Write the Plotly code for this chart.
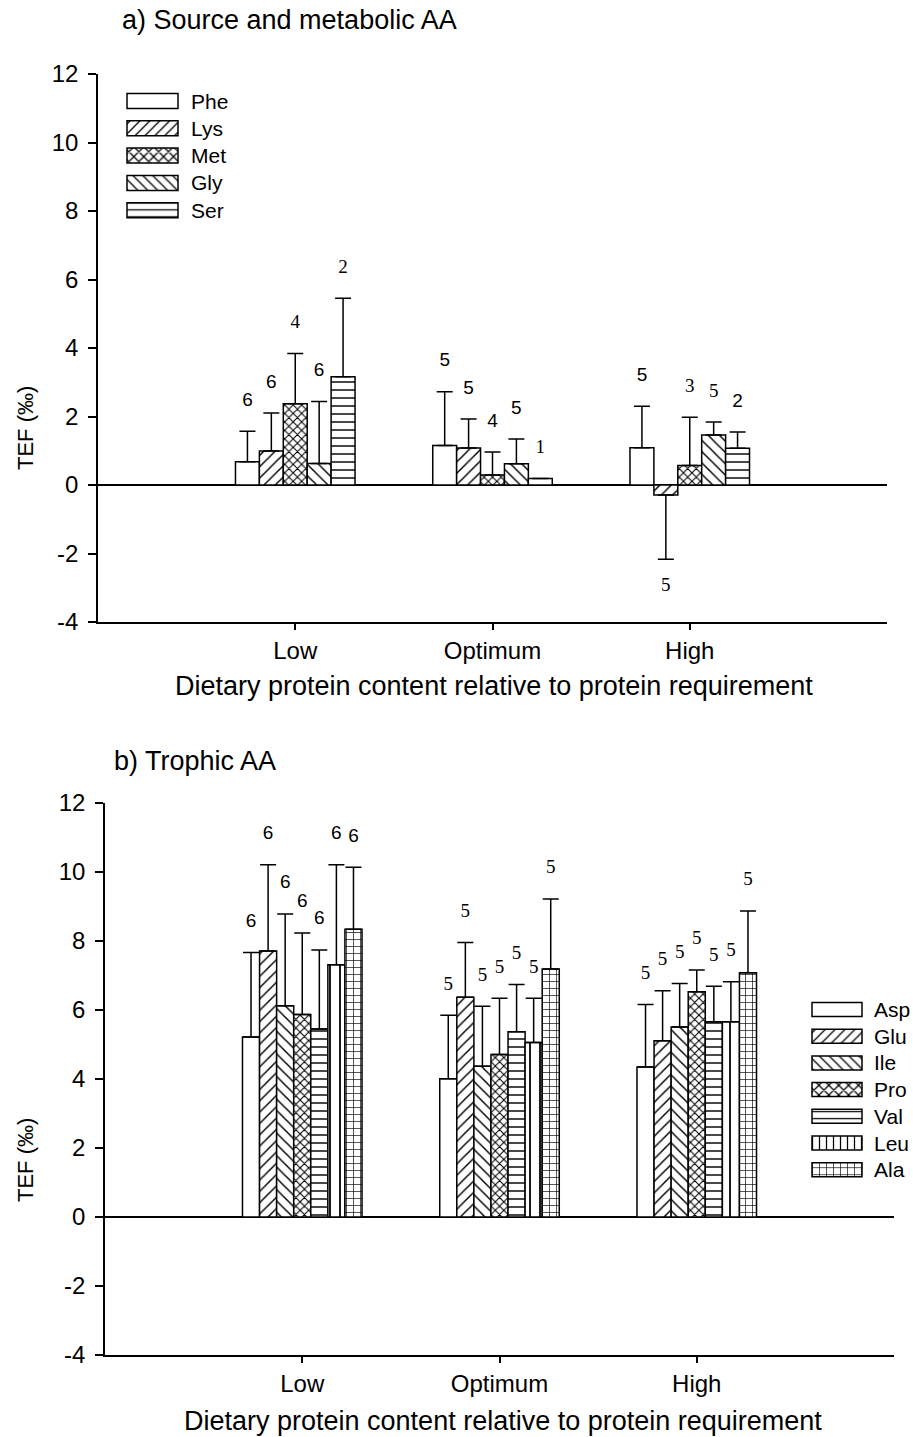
import plotly.graph_objects as go

# ---------------- data ----------------
levels = ["Low", "Optimum", "High"]
level_pos = [1, 2, 3]
y_ticks = [-4, -2, 0, 2, 4, 6, 8, 10, 12]

# a) source and metabolic amino acids: mean TEF, SD and n per diet level
src_names = ["Phe", "Lys", "Met", "Gly", "Ser"]
src_mean = {
    "Phe": [0.68, 1.15, 1.09],
    "Lys": [0.99, 1.08, -0.29],
    "Met": [2.37, 0.29, 0.57],
    "Gly": [0.63, 0.62, 1.46],
    "Ser": [3.16, 0.19, 1.07],
}
src_sd = {
    "Phe": [0.89, 1.57, 1.21],
    "Lys": [1.11, 0.85, 1.88],
    "Met": [1.47, 0.67, 1.41],
    "Gly": [1.81, 0.72, 0.38],
    "Ser": [2.29, 0.00, 0.48],
}
src_n = {
    "Phe": [6, 5, 5],
    "Lys": [6, 5, 5],
    "Met": [4, 4, 3],
    "Gly": [6, 5, 5],
    "Ser": [2, 1, 2],
}

# b) trophic amino acids
tro_names = ["Asp", "Glu", "Ile", "Pro", "Val", "Leu", "Ala"]
tro_mean = {
    "Asp": [5.22, 4.01, 4.35],
    "Glu": [7.71, 6.37, 5.11],
    "Ile": [6.12, 4.37, 5.51],
    "Pro": [5.87, 4.71, 6.53],
    "Val": [5.45, 5.37, 5.66],
    "Leu": [7.31, 5.06, 5.66],
    "Ala": [8.34, 7.19, 7.08],
}
tro_sd = {
    "Asp": [2.45, 1.84, 1.81],
    "Glu": [2.50, 1.59, 1.45],
    "Ile": [2.66, 1.74, 1.26],
    "Pro": [2.36, 1.63, 0.63],
    "Val": [2.29, 1.37, 1.03],
    "Leu": [2.90, 1.28, 1.16],
    "Ala": [1.80, 2.03, 1.79],
}
tro_n = {name: [6, 5, 5] for name in tro_names}

# ---------------- styles ----------------
SANS = "Liberation Sans, Arial, sans-serif"
SERIF = "Liberation Serif, Times New Roman, serif"
pattern_of = {
    "Phe": "", "Lys": "/", "Met": "x", "Gly": "\\", "Ser": "-",
    "Asp": "", "Glu": "/", "Ile": "\\", "Pro": "x", "Val": "-", "Leu": "|", "Ala": "+",
}
pattern_size = {"Leu": 10, "Ala": 7, "Met": 6, "Pro": 6}
pattern_solid = {"Met": 0.32, "Pro": 0.32}
# typeface of each n label (S = sans, T = serif)
src_label_face = {
    "Phe": "SSS", "Lys": "SST", "Met": "TST", "Gly": "SST", "Ser": "TTS",
}
tro_label_face = {name: "STT" for name in tro_names}

W, H = 913, 1437
BARGAP = 0.394


def px_x(v):
    return v / W


def px_y(v):
    return 1 - v / H


fig = go.Figure()


def bar_marker(name):
    shape = pattern_of[name]
    m = dict(color="white", line=dict(color="black", width=1.5))
    if shape:
        m["pattern"] = dict(shape=shape, fgcolor="black", bgcolor="white",
                            size=pattern_size.get(name, 8),
                            solidity=pattern_solid.get(name, 0.18),
                            fillmode="replace")
    return m


def add_panel(names, means, sds, ns, faces, xa, ya):
    k = len(names)
    w = (1 - BARGAP) / k
    for i, name in enumerate(names):
        m = means[name]
        s = sds[name]
        up = [sd if v >= 0 else 0 for v, sd in zip(m, s)]
        down = [sd if v < 0 else 0 for v, sd in zip(m, s)]
        fig.add_trace(go.Bar(
            x=level_pos, y=m, name=name, xaxis=xa, yaxis=ya,
            marker=bar_marker(name), showlegend=False,
            error_y=dict(type="data", symmetric=False, array=up, arrayminus=down,
                         color="black", thickness=1.5, width=8),
        ))
        # n labels above (or below) each error bar
        off = (i - (k - 1) / 2) * w
        lx = [p + off for p in level_pos]
        ly = [v + sd + 0.88 if v >= 0 else v - sd - 0.8 for v, sd in zip(m, s)]
        fam = [SANS if c == "S" else SERIF for c in faces[name]]
        fig.add_trace(go.Scatter(
            x=lx, y=ly, mode="text", text=[str(n) for n in ns[name]],
            textfont=dict(family=fam, size=19, color="black"),
            xaxis=xa, yaxis=ya, showlegend=False, hoverinfo="skip", cliponaxis=False,
        ))


add_panel(src_names, src_mean, src_sd, src_n, src_label_face, "x", "y")
add_panel(tro_names, tro_mean, tro_sd, tro_n, tro_label_face, "x2", "y2")


# ---------------- hand-drawn legends (wide patterned swatches) ----------------
def add_legend(names, xa, ya, box_left, box_w, box_h, first_c, step, text_x, layout):
    k = len(names)
    pad = 0.06
    fig.add_trace(go.Bar(
        x=[1] * k, y=list(range(k)), base=0, orientation="h", width=box_h / step,
        marker=dict(color="white", line=dict(color="black", width=1.5),
                    pattern=dict(shape=[pattern_of[n] for n in names], fgcolor="black",
                                 bgcolor="white", size=7,
                                 solidity=[pattern_solid.get(n, 0.18) for n in names],
                                 fillmode="replace")),
        xaxis=xa, yaxis=ya, showlegend=False, hoverinfo="skip",
    ))
    top = first_c - step / 2
    bot = first_c + step * (k - 0.5)
    layout["xaxis" + xa[1:]] = dict(
        domain=[px_x(box_left - pad * box_w), px_x(box_left + (1 + pad) * box_w)],
        range=[-pad, 1 + pad], visible=False, fixedrange=True, anchor=ya)
    layout["yaxis" + ya[1:]] = dict(
        domain=[px_y(bot), px_y(top)], range=[k - 0.5, -0.5],
        visible=False, fixedrange=True, anchor=xa)
    for j, n in enumerate(names):
        fig.add_annotation(x=px_x(text_x), y=px_y(first_c + j * step), xref="paper",
                           yref="paper", text=n, showarrow=False, xanchor="left",
                           yanchor="middle", font=dict(family=SANS, size=21, color="black"))


extra = {}
add_legend(src_names, "x3", "y3", 127, 51, 15, 101, 27.3, 189, extra)
add_legend(tro_names, "x4", "y4", 812, 50, 14, 1009.5, 26.7, 872, extra)

axis_common = dict(showline=True, linecolor="black", linewidth=1.5, ticks="outside",
                   tickcolor="black", tickwidth=1.5, showgrid=False,
                   tickfont=dict(family=SANS, size=24, color="black"))
yax = dict(axis_common, range=[-4, 12], tickvals=y_ticks,
           ticktext=[str(v) for v in y_ticks], ticklen=8, ticklabelstandoff=5,
           zeroline=True, zerolinecolor="black", zerolinewidth=1.5)
xax = dict(axis_common, range=[0, 4], tickvals=level_pos, ticktext=levels,
           ticklen=6, zeroline=False)

fig.update_layout(
    width=W, height=H, margin=dict(l=0, r=0, t=0, b=0, pad=0, autoexpand=False),
    paper_bgcolor="white", plot_bgcolor="white", barmode="group", bargap=BARGAP,
    showlegend=False,
    xaxis=dict(xax, domain=[px_x(98), px_x(887)], anchor="y"),
    yaxis=dict(yax, domain=[px_y(622), px_y(74)], anchor="x"),
    xaxis2=dict(xax, domain=[px_x(105), px_x(894)], anchor="y2"),
    yaxis2=dict(yax, domain=[px_y(1355), px_y(803)], anchor="x2"),
    **extra,
)

# panel titles, axis titles
texts = [
    ("a) Source and metabolic AA", 120, 20, "left", 0, 27),
    ("b) Trophic AA", 112, 761, "left", 0, 27),
    ("Dietary protein content relative to protein requirement", 494, 686, "center", 0, 27),
    ("Dietary protein content relative to protein requirement", 503, 1421, "center", 0, 27),
    ("TEF (‰)", 25, 428, "center", -90, 22),
    ("TEF (‰)", 25, 1160, "center", -90, 22),
]
for t, x, y, anc, rot, size in texts:
    fig.add_annotation(x=px_x(x), y=px_y(y), xref="paper", yref="paper", text=t,
                       showarrow=False, xanchor=anc, yanchor="middle", textangle=rot,
                       font=dict(family=SANS, size=size, color="black"))

fig.write_html("out.html")
